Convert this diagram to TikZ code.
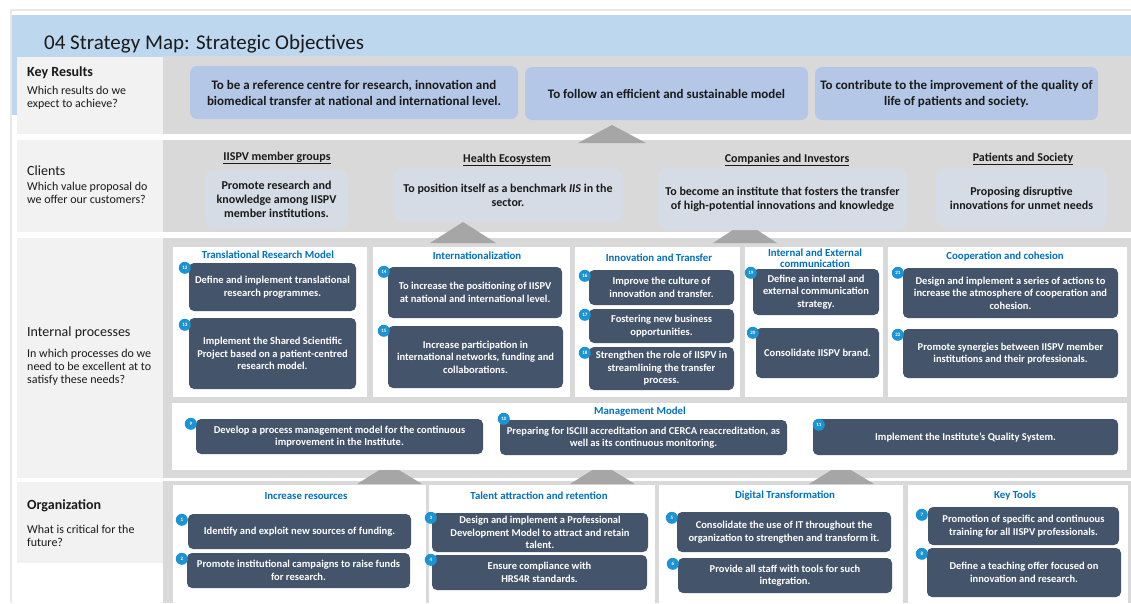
\documentclass[tikz,border=0pt]{standalone}
\usepackage{fontspec}
\setmainfont{Carlito}
\usepackage{xcolor}
\usepackage{tikz}
\usetikzlibrary{positioning}

\definecolor{bandblue}{HTML}{BDD7EE}
\definecolor{labelgrey}{HTML}{F2F2F2}
\definecolor{rowgrey}{HTML}{D9D9D9}
\definecolor{krblue}{HTML}{B4C7E7}
\definecolor{clblue}{HTML}{D6DCE5}
\definecolor{boxdark}{HTML}{44546A}
\definecolor{titleblue}{HTML}{0070C0}
\definecolor{badgeblue}{HTML}{1C93D2}
\definecolor{trigrey}{HTML}{A6A6A6}
\definecolor{pageline}{HTML}{E8E8E8}
\definecolor{textdark}{HTML}{1A1A1A}

\begin{document}
\begin{tikzpicture}[x=1pt,y=-1pt,
  sz/.style 2 args={minimum width=#1pt, minimum height=#2pt},
  krbox/.style={fill=krblue, rounded corners=7pt, align=center, inner sep=0pt, text=textdark, font=\fontsize{13}{16}\selectfont\bfseries},
  clbox/.style={fill=clblue, rounded corners=9pt, align=center, inner sep=0pt, text=textdark, font=\fontsize{12}{14}\selectfont\bfseries},
  dbox/.style={fill=boxdark, rounded corners=5pt, align=center, inner sep=0pt, text=white, font=\fontsize{10.5}{12.5}\selectfont\bfseries},
  badge/.style={circle, fill=badgeblue, minimum size=12pt, inner sep=0pt, text=white, font=\fontsize{5}{5}\selectfont\bfseries},
  ptitle/.style={align=center, inner sep=0pt, text=titleblue, font=\fontsize{10.8}{11}\selectfont\bfseries},
  chead/.style={inner sep=0pt, text=textdark, font=\fontsize{12}{14}\selectfont\bfseries},
  lhead/.style={anchor=west, inner sep=0pt, text=textdark, font=\fontsize{14}{16}\selectfont},
  lsub/.style={anchor=west, align=left, inner sep=0pt, text=textdark, font=\fontsize{12}{13}\selectfont},
  panel/.style={fill=white}]
\useasboundingbox (0,0) rectangle (1131,603);
\fill[white] (0,0) rectangle (1131,603);

% page and title band
\draw[pageline, line width=2pt] (11,603) -- (11,10) -- (1131,10);
\fill[bandblue] (12,15) rectangle (1131,115);
\node[anchor=west, inner sep=0pt, text=textdark, font=\fontsize{21}{24}\selectfont] (title) at (44,44) {04 Strategy Map: Strategic Objectives};

% rows
\fill[rowgrey] (163,56) rectangle (1131,134);
\fill[white] (12,134) rectangle (1131,140);
\fill[rowgrey] (163,140) rectangle (1131,232);
\fill[white] (12,232) rectangle (1131,238);
\fill[rowgrey] (163,238) rectangle (1131,478);
\fill[white] (12,478) rectangle (1131,481);
\fill[rowgrey] (163,481) rectangle (1131,603);
\fill[labelgrey] (17,57) rectangle (163,134);
\fill[labelgrey] (17,140) rectangle (163,232);
\fill[labelgrey] (17,238) rectangle (163,478);
\fill[labelgrey] (17,482) rectangle (163,563);

% row labels
\node[lhead, font=\fontsize{14}{16}\selectfont\bfseries] (lkr) at (27,73) {Key Results};
\node[lsub] (skr) at (27,97.5) {Which results do we\\expect to achieve?};
\node[lhead] (lcl) at (27,171) {Clients};
\node[lsub] (scl) at (27,193) {Which value proposal do\\we offer our customers?};
\node[lhead] (lip) at (27,333) {Internal processes};
\node[lsub] (sip) at (27,367) {In which processes do we\\need to be excellent at to\\satisfy these needs?};
\node[lhead, font=\fontsize{14}{16}\selectfont\bfseries] (lor) at (27,506) {Organization};
\node[lsub] (sor) at (27,536) {What is critical for the\\future?};

% arrows between levels
\fill[trigrey] (578,143) -- (612,125) -- (646,143) -- cycle;
\fill[trigrey] (430,243) -- (463,222) -- (496,243) -- cycle;
\fill[trigrey] (713,243) -- (745,222) -- (777,243) -- cycle;
\fill[trigrey] (357,484) -- (389,464) -- (422,484) -- cycle;
\fill[trigrey] (570,484) -- (602,464) -- (635,484) -- cycle;
\fill[trigrey] (809,484) -- (841,464) -- (874,484) -- cycle;

% key results
\node[krbox, sz={328}{53}] (kr1) at (354,92.5) {To be a reference centre for research, innovation and\\biomedical transfer at national and international level.};
\node[krbox, sz={283}{53}] (kr2) at (666.5,93.5) {To follow an efficient and sustainable model};
\node[krbox, sz={283}{53}] (kr3) at (956.5,93.5) {To contribute to the improvement of the quality of\\life of patients and society.};

% clients
\node[chead] (h1) at (277,158) {\underline{IISPV member groups}};
\node[chead] (h2) at (507,160) {\underline{Health Ecosystem}};
\node[chead] (h3) at (787,160) {\underline{Companies and Investors}};
\node[chead] (h4) at (1023,159) {\underline{Patients and Society}};
\node[clbox, sz={143}{59}] (cl1) at (276.5,199.5) {Promote research and\\knowledge among IISPV\\member institutions.};
\node[clbox, sz={230}{54}] (cl2) at (508,195) {To position itself as a benchmark \textit{IIS} in the\\sector.};
\node[clbox, sz={249}{62}] (cl3) at (782.5,199) {To become an institute that fosters the transfer\\of high-potential innovations and knowledge};
\node[clbox, sz={171}{60}] (cl4) at (1021.5,198) {Proposing disruptive\\innovations for unmet needs};

% internal processes panels
\fill[panel] (173,247) rectangle (367,397);
\fill[panel] (373,247) rectangle (570,397);
\fill[panel] (575,247) rectangle (740,397);
\fill[panel] (745,247) rectangle (883,397);
\fill[panel] (888,247) rectangle (1127,397);
\fill[panel] (172,403) rectangle (1127,470);

\node[ptitle] (t1) at (268,255) {Translational Research Model};
\node[ptitle] (t2) at (477,256) {Internationalization};
\node[ptitle] (t3) at (659,258) {Innovation and Transfer};
\node[ptitle, font=\fontsize{10.8}{10.5}\selectfont\bfseries] (t4) at (815,258) {Internal and External\\communication};
\node[ptitle] (t5) at (1005,257) {Cooperation and cohesion};
\node[ptitle] (tm) at (640,412) {Management Model};

\node[dbox, sz={167}{48}] (o12) at (272.5,287) {Define and implement translational\\research programmes.};
\node[dbox, sz={167}{71}] (o13) at (272.5,353.5) {Implement the Shared Scientific\\Project based on a patient-centred\\research model.};
\node[dbox, sz={174}{51}] (o14) at (475,292.5) {To increase the positioning of IISPV\\at national and international level.};
\node[dbox, sz={175}{62}] (o15) at (475.5,357) {Increase participation in\\international networks, funding and\\collaborations.};
\node[dbox, sz={145}{35}] (o16) at (661.5,287.5) {Improve the culture of\\innovation and transfer.};
\node[dbox, sz={145}{34}] (o17) at (661.5,326) {Fostering new business\\opportunities.};
\node[dbox, sz={145}{43}] (o18) at (661.5,368.5) {Strengthen the role of IISPV in\\streamlining the transfer\\process.};
\node[dbox, sz={126}{46}] (o19) at (816,292) {Define an internal and\\external communication\\strategy.};
\node[dbox, sz={123}{50}] (o20) at (817.5,353) {Consolidate IISPV brand.};
\node[dbox, sz={215}{50}] (o21) at (1010.5,293) {Design and implement a series of actions to\\increase the atmosphere of cooperation and\\cohesion.};
\node[dbox, sz={215}{49}] (o22) at (1010.5,353.5) {Promote synergies between IISPV member\\institutions and their professionals.};
\node[dbox, sz={287}{35}] (o9) at (339.5,436.5) {Develop a process management model  for the continuous\\improvement in the Institute.};
\node[dbox, sz={287}{35}] (o10) at (643.5,437.5) {Preparing for ISCIII accreditation and CERCA reaccreditation, as\\well as its continuous monitoring.};
\node[dbox, sz={305}{36}] (o11) at (965.5,437) {Implement the Institute's Quality System.};

% organization panels
\fill[panel] (173,485) rectangle (426,603);
\fill[panel] (429,485) rectangle (655,603);
\fill[panel] (659,485) rectangle (903,603);
\fill[panel] (908,485) rectangle (1128,603);

\node[ptitle] (r1) at (306,496) {Increase resources};
\node[ptitle] (r2) at (539,496) {Talent attraction and retention};
\node[ptitle] (r3) at (785,496) {Digital Transformation};
\node[ptitle] (r4) at (1015,496) {Key Tools};

\node[dbox, sz={223}{35}] (o1) at (299.5,531.5) {Identify and exploit new sources of funding.};
\node[dbox, sz={223}{35}] (o2) at (298.5,570.5) {Promote institutional campaigns to raise funds\\for research.};
\node[dbox, sz={216}{39}] (o3) at (540,532.5) {Design and implement a Professional\\Development Model to attract and retain\\talent.};
\node[dbox, sz={215}{35}] (o4) at (539.5,572.5) {Ensure compliance with\\HRS4R standards.};
\node[dbox, sz={214}{40}] (o5) at (784,532) {Consolidate the use of IT throughout the\\organization to strengthen and transform it.};
\node[dbox, sz={214}{35}] (o6) at (785,575.5) {Provide all staff with tools for such\\integration.};
\node[dbox, sz={191}{38}] (o7) at (1023.5,526) {Promotion of specific and continuous\\training for all IISPV professionals.};
\node[dbox, sz={194}{49}] (o8) at (1024,572.5) {Define a teaching offer focused on\\innovation and research.};

% number badges
\node[badge] (b1) at ([shift={(-6,6)}]o1.north west) {1};
\node[badge] (b2) at ([shift={(-5,6)}]o2.north west) {2};
\node[badge] (b3) at ([shift={(-1,5)}]o3.north west) {3};
\node[badge] (b4) at ([shift={(-1,5)}]o4.north west) {4};
\node[badge] (b5) at ([shift={(-5,6)}]o5.north west) {5};
\node[badge] (b6) at ([shift={(-5,6)}]o6.north west) {6};
\node[badge] (b7) at ([shift={(-6,8)}]o7.north west) {7};
\node[badge] (b8) at ([shift={(-5,6)}]o8.north west) {8};
\node[badge] (b9) at ([shift={(-5,5)}]o9.north west) {9};
\node[badge] (b10) at ([shift={(4,-1)}]o10.north west) {10};
\node[badge] (b11) at ([shift={(6,6)}]o11.north west) {11};
\node[badge] (b12) at ([shift={(-4,5)}]o12.north west) {12};
\node[badge] (b13) at ([shift={(-4,7)}]o13.north west) {13};
\node[badge] (b14) at ([shift={(-4,5)}]o14.north west) {14};
\node[badge] (b15) at ([shift={(-4,5)}]o15.north west) {15};
\node[badge] (b16) at ([shift={(-4,6)}]o16.north west) {16};
\node[badge] (b17) at ([shift={(-4,6)}]o17.north west) {17};
\node[badge] (b18) at ([shift={(-4,6)}]o18.north west) {18};
\node[badge] (b19) at ([shift={(-2,4)}]o19.north west) {19};
\node[badge] (b20) at ([shift={(-3,5)}]o20.north west) {20};
\node[badge] (b21) at ([shift={(-5,5)}]o21.north west) {21};
\node[badge] (b22) at ([shift={(-5,6)}]o22.north west) {22};
\end{tikzpicture}
\end{document}
